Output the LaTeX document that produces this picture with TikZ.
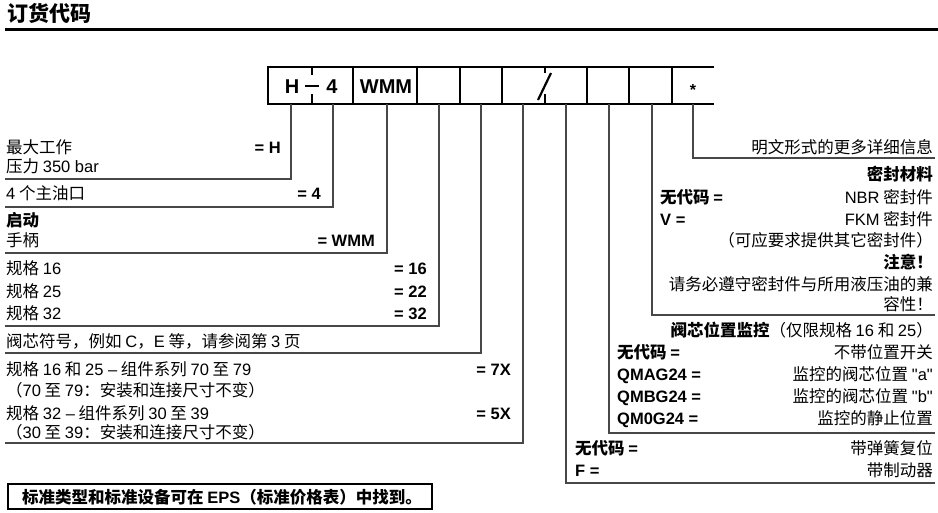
\documentclass[tikz,border=0pt]{standalone}
\usepackage{fontspec}
\setmainfont{Noto Sans CJK SC}
\newfontfamily\lat{Liberation Sans}
\begin{document}
\begin{tikzpicture}[x=1pt,y=-1pt,
  txt/.style={inner sep=0pt, font=\fontsize{16.5}{20}\selectfont},
  lt/.style={txt, anchor=base west},
  rt/.style={txt, anchor=base east},
  code/.style={inner sep=0pt, anchor=base, font=\fontsize{20}{24}\selectfont\lat\bfseries},
  ln/.style={line width=1.2pt, draw=black!72},
  boxline/.style={line width=2.5pt, line cap=rect}]
\useasboundingbox (0,0) rectangle (938,512);

% title
\node[anchor=base west, inner sep=0pt, font=\fontsize{21}{24}\selectfont\bfseries] (title) at (7,21) {订货代码};
\draw[line width=3pt] (5,29.5) -- (938,29.5);

% code box
\draw[boxline] (268,67) -- (713,67);
\draw[boxline] (268,104) -- (713,104);
\foreach \x in {268,353,417,460,502,587,629,672}
  \draw[boxline] (\x,67) -- (\x,104);
\draw[line width=2.5pt] (312,66) -- (312,75);
\draw[line width=2.5pt] (312,94) -- (312,105);
\draw[line width=2.5pt] (305,86) -- (319,86);
\draw[line width=2.5pt] (545,66) -- (545,73);
\draw[line width=2.5pt] (545,94) -- (545,105);
\draw[line width=2.2pt] (538,100) -- (551,73);
\node[code] (cH) at (292,93) {H};
\node[code] (c4) at (332,93) {4};
\node[code] (cW) at (386,93) {WMM};
\node[inner sep=0pt, font=\fontsize{16}{18}\selectfont\lat\bfseries] (cS) at (693,90) {*};

% connector coordinates
\foreach \n/\x/\y in {a/291/179,b/333/207,c/387/253,d/439/326,e/481/353,f/523/443}{
  \coordinate (\n t) at (\x,104);
  \coordinate (\n c) at (\x,\y);
  \coordinate (\n e) at (5,\y);
}
\foreach \n/\x/\y in {g/566/483,h/609/433,i/652/315,j/693/158}{
  \coordinate (\n t) at (\x,104);
  \coordinate (\n c) at (\x,\y);
  \coordinate (\n e) at (935,\y);
}
\foreach \n in {a,b,c,d,e,f,g,h,i,j}
  \draw[ln] (\n t) -- (\n c) -- (\n e);

% left texts
\node[lt] (l1) at (6,153) {最大工作};
\node[lt] (l2) at (6,172) {压力 {\lat 350 bar}};
\node[rt] (r1) at (281,153) {\lat\bfseries = H};
\node[lt] (l3) at (6,199) {{\lat 4} 个主油口};
\node[rt] (r2) at (321,199) {\lat\bfseries = 4};
\node[lt] (l4) at (6,226) {\bfseries 启动};
\node[lt] (l5) at (6,246) {手柄};
\node[rt] (r3) at (375,246) {\lat\bfseries = WMM};
\node[lt] (l6) at (6,274) {规格 {\lat 16}};
\node[rt] (r4) at (427,274) {\lat\bfseries = 16};
\node[lt] (l7) at (6,297) {规格 {\lat 25}};
\node[rt] (r5) at (427,297) {\lat\bfseries = 22};
\node[lt] (l8) at (6,319) {规格 {\lat 32}};
\node[rt] (r6) at (427,319) {\lat\bfseries = 32};
\node[lt] (l9) at (6,347) {阀芯符号，例如 {\lat C}，{\lat E} 等，请参阅第 {\lat 3} 页};
\node[lt] (l10) at (6,375) {规格 {\lat 16} 和 {\lat 25 –} 组件系列 {\lat 70} 至 {\lat 79}};
\node[rt] (r7) at (511,375) {\lat\bfseries = 7X};
\node[lt] (l11) at (6,396) {（{\lat 70} 至 {\lat 79}：安装和连接尺寸不变）};
\node[lt] (l12) at (6,419) {规格 {\lat 32 –} 组件系列 {\lat 30} 至 {\lat 39}};
\node[rt] (r8) at (511,419) {\lat\bfseries = 5X};
\node[lt] (l13) at (6,438) {（{\lat 30} 至 {\lat 39}：安装和连接尺寸不变）};

% right texts
\node[rt] (m1) at (933,153) {明文形式的更多详细信息};
\node[rt] (m2) at (933,180) {\bfseries 密封材料};
\node[lt] (m3) at (660,203) {\bfseries 无代码 {\lat =}};
\node[rt] (m4) at (933,203) {{\lat NBR} 密封件};
\node[lt] (m5) at (660,225) {\lat\bfseries V =};
\node[rt] (m6) at (933,225) {{\lat FKM} 密封件};
\node[rt] (m7) at (933,246) {（可应要求提供其它密封件）};
\node[rt] (m8) at (933,268) {\bfseries 注意！};
\node[rt] (m9) at (933,290) {请务必遵守密封件与所用液压油的兼};
\node[rt] (m10) at (933,310) {容性！};
\node[rt] (n1) at (933,336) {{\bfseries 阀芯位置监控}（仅限规格 {\lat 16} 和 {\lat 25}）};
\node[lt] (n2) at (617,358) {\bfseries 无代码 {\lat =}};
\node[rt] (n3) at (933,358) {不带位置开关};
\node[lt] (n4) at (617,380) {\lat\bfseries QMAG24 =};
\node[rt] (n5) at (933,380) {监控的阀芯位置 {\lat "a"}};
\node[lt] (n6) at (617,402) {\lat\bfseries QMBG24 =};
\node[rt] (n7) at (933,402) {监控的阀芯位置 {\lat "b"}};
\node[lt] (n8) at (617,424) {\lat\bfseries QM0G24 =};
\node[rt] (n9) at (933,424) {监控的静止位置};
\node[lt] (p1) at (575,454) {\bfseries 无代码 {\lat =}};
\node[rt] (p2) at (933,454) {带弹簧复位};
\node[lt] (p3) at (575,476) {\lat\bfseries F =};
\node[rt] (p4) at (933,476) {带制动器};

% bottom note box
\draw[line width=2.5pt, fill=white] (8,484) rectangle (432,509);
\node[lt] (note) at (22,503) {\bfseries 标准类型和标准设备可在 {\lat EPS}（标准价格表）中找到。};
\end{tikzpicture}
\end{document}
